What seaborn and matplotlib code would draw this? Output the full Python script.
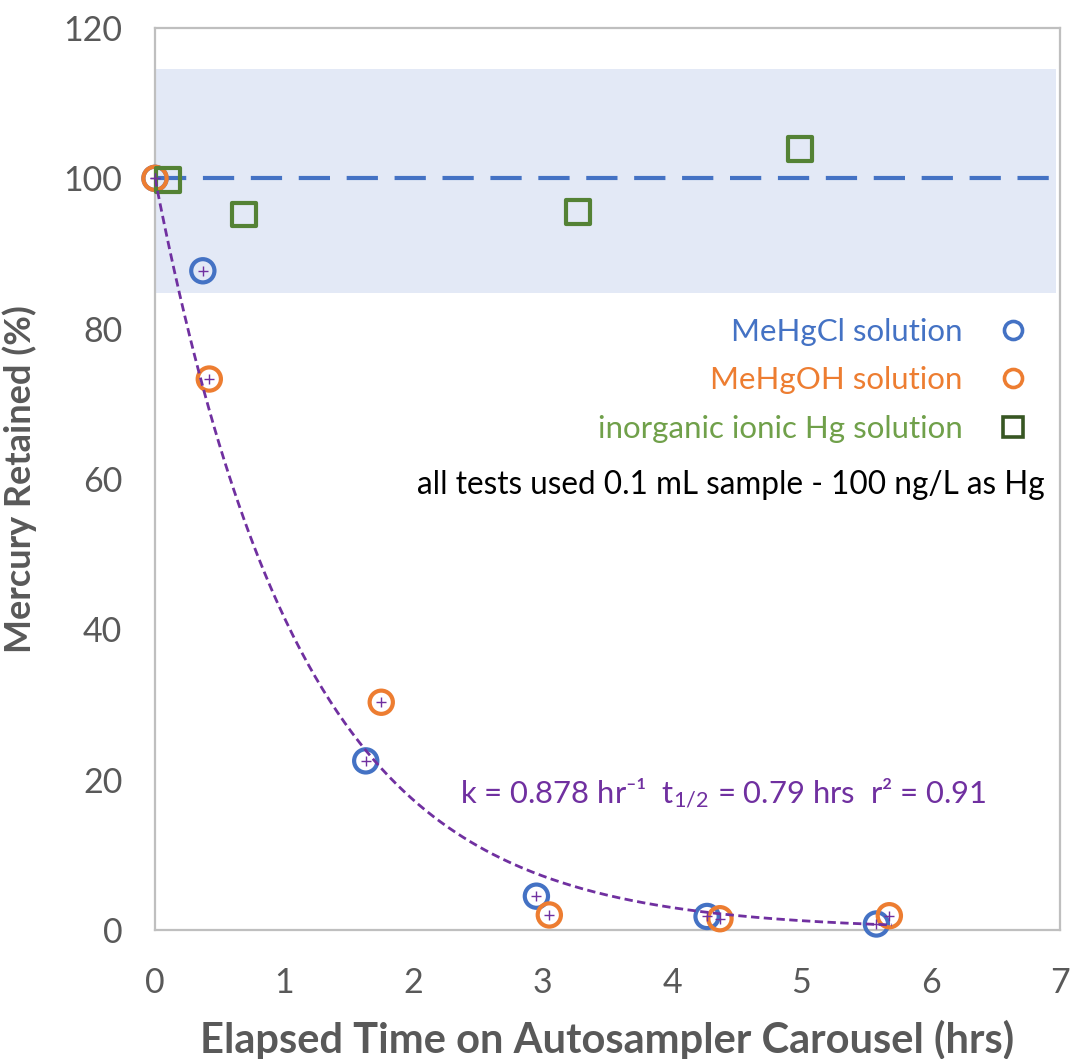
import numpy as np
import pandas as pd
import matplotlib
matplotlib.use("Agg")
import matplotlib.pyplot as plt
import seaborn as sns
from matplotlib.ticker import MultipleLocator
from matplotlib.lines import Line2D

# ---------------- data ----------------
mehgcl_time = [0.0, 0.37, 1.63, 2.95, 4.27, 5.58]
mehgcl_pct = [100.0, 87.7, 22.5, 4.5, 1.8, 0.8]

mehgoh_time = [0.0, 0.42, 1.75, 3.05, 4.37, 5.68]
mehgoh_pct = [100.0, 73.3, 30.3, 2.0, 1.5, 1.9]

inorg_time = [0.1, 0.69, 3.27, 4.99]
inorg_pct = [99.8, 95.2, 95.5, 103.9]

k_rate = 0.878              # first-order fit rate (hr^-1)
fit_end = 5.7               # fit drawn up to this time (hrs)
band_range = [84.7, 114.5]  # acceptance band
nominal = 100

series_labels = ["MeHgCl solution", "MeHgOH solution", "inorganic ionic Hg solution"]
note_text = "all tests used 0.1 mL sample - 100 ng/L as Hg"
fit_text = "k = 0.878 hr\u207b\u00b9  t$_{1/2}$ = 0.79 hrs  r\u00b2 = 0.91"
x_label = "Elapsed Time on Autosampler Carousel (hrs)"
y_label = "Mercury Retained (%)"

# ---------------- style ----------------
sns.set_style("white")
plt.rcParams["font.family"] = ["Lato", "DejaVu Sans"]
plt.rcParams["mathtext.default"] = "regular"

BLUE = "#4472C4"
ORANGE = "#ED7D31"
GREEN = "#548235"
DKGREEN = "#375623"
PURPLE = "#7030A0"
GRAY = "#BFBFBF"
TXT = "#595959"

fig = plt.figure(figsize=(10.70, 10.59), dpi=100)
ax = fig.add_axes([155/1070, 1-930/1059, 905/1070, 902/1059])

ax.set_xlim(0, 7)
ax.set_ylim(0, 120)

# acceptance band and nominal line
ax.axhspan(band_range[0], band_range[1], xmin=0, xmax=0.996, color="#E3E9F6", zorder=0, lw=0)
ax.axhline(nominal, color=BLUE, lw=3.0, dashes=(7.5, 4), zorder=1)

df_cl = pd.DataFrame({"t": mehgcl_time, "p": mehgcl_pct})
df_oh = pd.DataFrame({"t": mehgoh_time, "p": mehgoh_pct})
df_in = pd.DataFrame({"t": inorg_time, "p": inorg_pct})

ms = 280
sns.scatterplot(data=df_cl, x="t", y="p", marker="o", s=ms, facecolor="none",
                edgecolor=BLUE, linewidth=3.0, ax=ax, zorder=3, clip_on=False)
sns.scatterplot(data=df_oh, x="t", y="p", marker="o", s=ms, facecolor="none",
                edgecolor=ORANGE, linewidth=3.0, ax=ax, zorder=4, clip_on=False)
sns.scatterplot(data=df_in, x="t", y="p", marker="s", s=290, facecolor="none",
                edgecolor=GREEN, linewidth=3.0, ax=ax, zorder=5, clip_on=False)

# fitted first-order decay
t_fit = np.linspace(0, fit_end, 300)
df_fit = pd.DataFrame({"t": t_fit, "p": nominal * np.exp(-k_rate * t_fit)})
sns.lineplot(data=df_fit, x="t", y="p", color=PURPLE, lw=2.0, ax=ax, zorder=6)
ax.lines[-1].set_dashes((3, 1.6))

# fit points marked with small purple crosses
df_pts = pd.concat([df_cl, df_oh])
sns.scatterplot(data=df_pts, x="t", y="p", marker="+", s=45, color=PURPLE,
                linewidth=1.0, ax=ax, zorder=7, clip_on=False)

ax.text(2.36, 18.2, fit_text, color=PURPLE, fontsize=22.3, va="center", ha="left")

# legend (labels left of markers)
handles = [
    Line2D([], [], ls="none", marker="o", ms=13, mfc="none", mec=BLUE, mew=2.6),
    Line2D([], [], ls="none", marker="o", ms=13, mfc="none", mec=ORANGE, mew=2.6),
    Line2D([], [], ls="none", marker="s", ms=14, mfc="none", mec=DKGREEN, mew=2.6),
]
leg = ax.legend(handles, series_labels, loc="upper right", bbox_to_anchor=(0.965, 0.679),
                frameon=False, markerfirst=False, fontsize=22.5, labelspacing=0.66,
                handletextpad=1.1, handlelength=1.0, borderpad=0, borderaxespad=0)
for txt, c in zip(leg.get_texts(), [BLUE, ORANGE, "#70A04A"]):
    txt.set_color(c)

ax.text(0.983, 0.493, note_text, transform=ax.transAxes, color="black",
        fontsize=22.7, ha="right", va="center")

# axes styling
ax.xaxis.set_major_locator(MultipleLocator(1))
ax.xaxis.set_minor_locator(MultipleLocator(0.2))
ax.yaxis.set_major_locator(MultipleLocator(20))
ax.yaxis.set_minor_locator(MultipleLocator(2))

for s in ax.spines.values():
    s.set_color(GRAY)
    s.set_linewidth(1.6)
    s.set_zorder(2)

ax.tick_params(axis="both", which="major", direction="inout", length=17, width=1.6,
               color=GRAY, labelsize=24.5, labelcolor=TXT)
ax.tick_params(axis="x", which="major", pad=18)
ax.tick_params(axis="y", which="major", pad=15)
ax.tick_params(axis="both", which="minor", direction="in", length=6, width=1.3, color=GRAY)
ax.tick_params(top=False, right=False, which="both")

ax.set_xlabel(x_label, fontsize=30, fontweight="bold", color=TXT, labelpad=15)
ax.set_ylabel(y_label, fontsize=26, fontweight="bold", color=TXT, labelpad=19)
ax.grid(False)

fig.savefig("out.png", dpi=100)
